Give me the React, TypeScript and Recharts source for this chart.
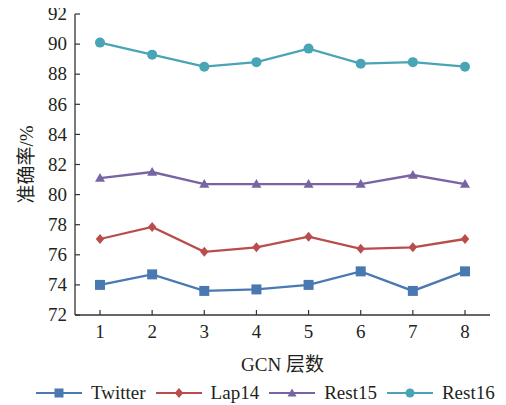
import React from 'react';
import { LineChart, Line, XAxis, YAxis, Legend } from 'recharts';

const layers = [1, 2, 3, 4, 5, 6, 7, 8];
const twitter = [74.0, 74.7, 73.6, 73.7, 74.0, 74.9, 73.6, 74.9];
const lap14 = [77.05, 77.85, 76.2, 76.5, 77.2, 76.4, 76.5, 77.05];
const rest15 = [81.1, 81.5, 80.7, 80.7, 80.7, 80.7, 81.3, 80.7];
const rest16 = [90.1, 89.3, 88.5, 88.8, 89.7, 88.7, 88.8, 88.5];
const yTicks = [72, 74, 76, 78, 80, 82, 84, 86, 88, 90, 92];

const data = layers.map((l, i) => ({
  layer: l,
  Twitter: twitter[i],
  Lap14: lap14[i],
  Rest15: rest15[i],
  Rest16: rest16[i],
}));

const FONT = 'Liberation Serif, Times New Roman, serif';
const CJK_FONT = 'Liberation Serif, Noto Sans CJK SC, serif';
const FS = 19;
const AXIS = '#333333';
const TEXT = '#231f20';

const SERIES = [
  { key: 'Twitter', color: '#4a79b2', shape: 'square' },
  { key: 'Lap14', color: '#b84d4c', shape: 'diamond' },
  { key: 'Rest15', color: '#7864a2', shape: 'triangle' },
  { key: 'Rest16', color: '#49a4b6', shape: 'circle' },
];

function Marker({ cx, cy, shape, color, size }: any) {
  const s = size / 2;
  if (shape === 'square')
    return <rect x={cx - s} y={cy - s} width={size} height={size} fill={color} />;
  if (shape === 'diamond')
    return (
      <polygon
        points={`${cx},${cy - s} ${cx + s * 0.85},${cy} ${cx},${cy + s} ${cx - s * 0.85},${cy}`}
        fill={color}
      />
    );
  if (shape === 'triangle')
    return (
      <polygon
        points={`${cx},${cy - s} ${cx + s},${cy + s * 0.75} ${cx - s},${cy + s * 0.75}`}
        fill={color}
      />
    );
  return <circle cx={cx} cy={cy} r={s} fill={color} />;
}

const makeDot = (shape: string, color: string) => (props: any) => (
  <Marker key={`${shape}-${props.index}`} cx={props.cx} cy={props.cy} shape={shape} color={color} size={10} />
);

function YTick({ x, y, payload }: any) {
  return (
    <g>
      <line x1={x + 8} x2={x + 13} y1={y} y2={y} stroke={AXIS} strokeWidth={1.2} />
      <text x={x} y={y} dy="0.33em" textAnchor="end" fill={TEXT} fontSize={FS} style={{ fontFamily: FONT }}>
        {payload.value}
      </text>
    </g>
  );
}

function XTick({ x, y, payload }: any) {
  return (
    <g>
      <line x1={x} x2={x} y1={y - 9} y2={y - 14} stroke={AXIS} strokeWidth={1.2} />
      <text x={x} y={y} dy="0.75em" textAnchor="middle" fill={TEXT} fontSize={FS} style={{ fontFamily: FONT }}>
        {payload.value}
      </text>
    </g>
  );
}

function LegendContent() {
  return (
    <div
      style={{
        height: 24,
        display: 'flex',
        justifyContent: 'flex-start',
        alignItems: 'center',
        paddingLeft: 28,
        fontFamily: FONT,
        fontSize: FS,
        color: TEXT,
        whiteSpace: 'nowrap',
      }}
    >
      {SERIES.map((s) => (
        <div key={s.key} style={{ display: 'flex', alignItems: 'center', marginRight: 10 }}>
          <svg width={46} height={14} style={{ marginRight: 9 }}>
            <line x1={0} x2={46} y1={7} y2={7} stroke={s.color} strokeWidth={2.2} />
            <Marker cx={23} cy={7} shape={s.shape} color={s.color} size={s.shape === 'diamond' ? 10 : 9} />
          </svg>
          <span>{s.key}</span>
        </div>
      ))}
    </div>
  );
}

export default function App() {
  return (
    <div style={{ marginTop: -8, fontFamily: FONT }}>
      <LineChart
        width={490}
        height={405}
        data={data}
        margin={{ top: 14, right: 8, bottom: 0, left: 0 }}
        style={{ fontFamily: FONT }}
      >
        <XAxis
          dataKey="layer"
          type="number"
          domain={[1, 8]}
          ticks={layers}
          padding={{ left: 25, right: 25 }}
          height={66}
          tickSize={0}
          tickMargin={9}
          tick={<XTick />}
          axisLine={{ stroke: AXIS, strokeWidth: 1.3 }}
          label={{
            value: 'GCN 层数',
            position: 'insideBottom',
            offset: 10,
            style: { fontSize: FS, fill: TEXT, fontFamily: CJK_FONT },
          }}
        />
        <XAxis
          xAxisId="top"
          orientation="top"
          dataKey="layer"
          type="number"
          domain={[1, 8]}
          height={0}
          tick={false}
          tickLine={false}
          axisLine={{ stroke: AXIS, strokeWidth: 1.3 }}
        />
        <YAxis
          domain={[72, 92]}
          ticks={yTicks}
          width={67}
          tickSize={0}
          tickMargin={8}
          tick={<YTick />}
          interval={0}
          axisLine={{ stroke: AXIS, strokeWidth: 1.3 }}
          label={{
            value: '准确率/%',
            angle: -90,
            position: 'insideLeft',
            offset: 18,
            style: { textAnchor: 'middle', fontSize: FS, fill: TEXT, fontFamily: CJK_FONT },
          }}
        />
        <YAxis
          yAxisId="right"
          orientation="right"
          width={0}
          tick={false}
          tickLine={false}
          axisLine={{ stroke: AXIS, strokeWidth: 1.3 }}
        />
        <Legend verticalAlign="bottom" content={<LegendContent />} />
        {SERIES.map((s) => (
          <Line
            key={s.key}
            dataKey={s.key}
            stroke={s.color}
            strokeWidth={2.3}
            dot={makeDot(s.shape, s.color)}
            activeDot={false}
            isAnimationActive={false}
          />
        ))}
      </LineChart>
    </div>
  );
}
